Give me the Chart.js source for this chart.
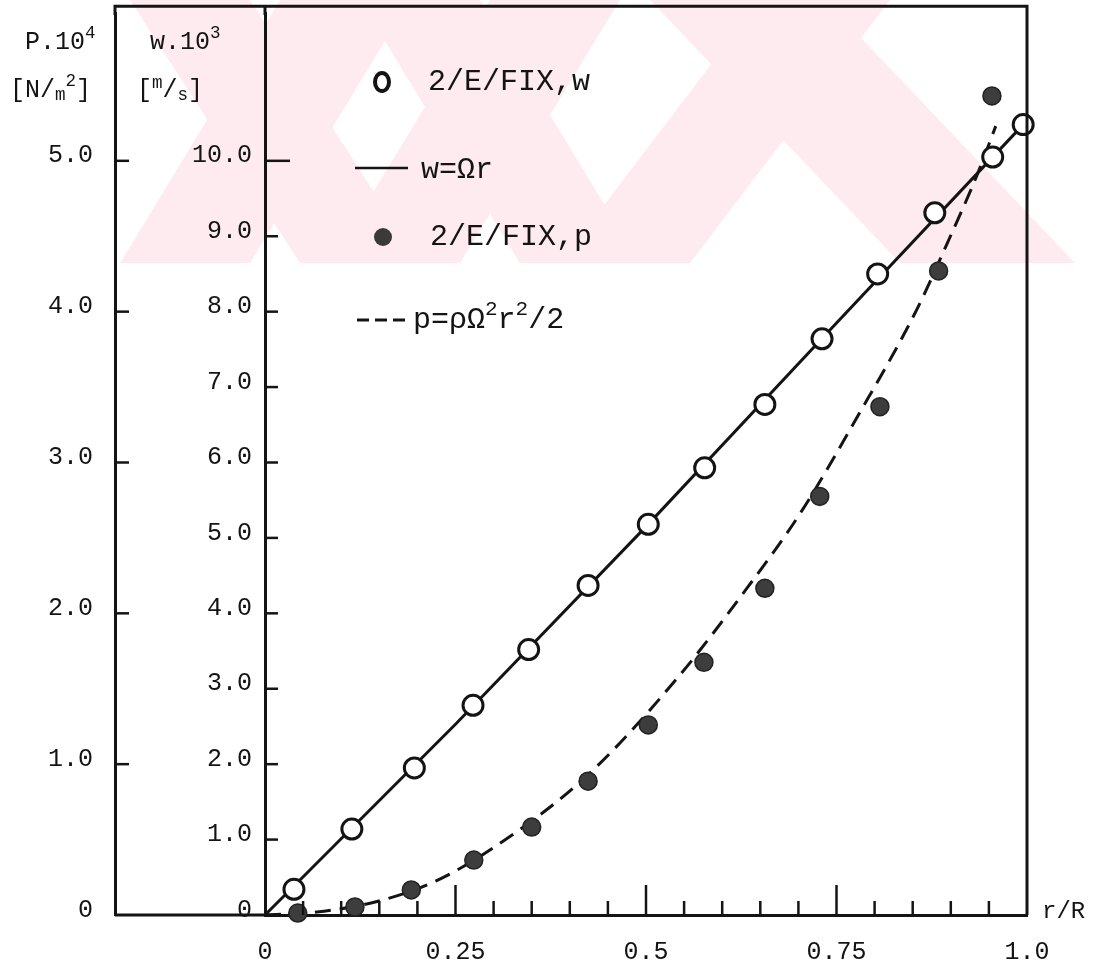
<!DOCTYPE html>
<html>
<head>
<meta charset="utf-8">
<title>w and p against r/R</title>
<script src="https://cdn.jsdelivr.net/npm/chart.js@4.4.1/dist/chart.umd.min.js"></script>
<style>
    html, body { margin: 0; padding: 0; background: #fff; }
    .chart-box { width: 1093px; height: 965px; position: relative; }
</style>
</head>
<body>
<div class="chart-box"><canvas id="profileChart"></canvas></div>
<script>
// measured velocity w.10^3 [m/s] (open circles)
const rW = [0.038, 0.114, 0.196, 0.273, 0.346, 0.424, 0.503, 0.577, 0.656, 0.731, 0.804, 0.879, 0.955, 0.995];
const wMeasured = [0.34, 1.14, 1.95, 2.78, 3.52, 4.37, 5.18, 5.93, 6.77, 7.64, 8.50, 9.31, 10.05, 10.48];

// measured pressure P.10^4 [N/m2] (filled circles)
const rP = [0.043, 0.118, 0.192, 0.274, 0.350, 0.424, 0.503, 0.576, 0.656, 0.728, 0.807, 0.884, 0.954];
const pMeasured = [0.013, 0.053, 0.166, 0.364, 0.583, 0.887, 1.26, 1.675, 2.166, 2.775, 3.37, 4.27, 5.43];

// w = Omega r (solid) and p = rho Omega^2 r^2 / 2 (dashed)
const rLine = [0, 0.25, 0.5, 0.75, 0.995];
const wLine = [0, 2.53, 5.15, 7.85, 10.48];
const rCurve = [0, 0.068, 0.155, 0.226, 0.304, 0.424, 0.541, 0.633, 0.702, 0.777, 0.856, 0.895, 0.934, 0.959];
const pCurve = [0, 0.02, 0.10, 0.23, 0.46, 0.93, 1.57, 2.17, 2.66, 3.30, 4.02, 4.45, 4.90, 5.23];

// tick labels
const xTickLabels = ['0', '0.25', '0.5', '0.75', '1.0'];
const wTickLabels = ['0', '1.0', '2.0', '3.0', '4.0', '5.0', '6.0', '7.0', '8.0', '9.0', '10.0'];
const pTickLabels = ['0', '1.0', '2.0', '3.0', '4.0', '5.0'];

const wMax = 11.96;      // top of the plot area
const wFrame = 12.05;    // top edge of the drawn frame
const ink = '#141414';
const mono = 'Liberation Mono';

const pts = (xs, ys) => xs.map((x, i) => ({ x: x, y: ys[i] }));

// text with raised / lowered parts
function drawRuns(ctx, x, y, size, runs) {
    ctx.textBaseline = 'middle';
    ctx.textAlign = 'left';
    runs.forEach(r => {
        const s = r.dy ? size * 0.7 : size;
        ctx.font = s + 'px "' + mono + '"';
        ctx.fillText(r.t, x, y + (r.dy || 0) * size);
        x += ctx.measureText(r.t).width;
    });
}

function noPad(scale) {
    scale.paddingTop = 0;
    scale.paddingBottom = 0;
    scale.paddingLeft = 0;
    scale.paddingRight = 0;
}

const sheet = {
    id: 'sheet',
    beforeDraw(chart) {
        // faint watermark stripes at the top
        const ctx = chart.ctx;
        ctx.save();
        ctx.beginPath();
        ctx.rect(118, 0, 957, 263);
        ctx.clip();
        ctx.fillStyle = '#fdebef';
        const bands = [
            [120, 250, 280, 410], [300, 420, 130, 250],
            [330, 460, 490, 620], [520, 640, 360, 480],
            [560, 690, 760, 890], [900, 1075, 650, 825]
        ];
        bands.forEach(b => {
            ctx.beginPath();
            ctx.moveTo(b[0], 263); ctx.lineTo(b[1], 263);
            ctx.lineTo(b[3], 0); ctx.lineTo(b[2], 0);
            ctx.closePath();
            ctx.fill();
        });
        ctx.restore();
    },
    afterDatasetsDraw(chart) {
        const { ctx, chartArea: a, scales } = chart;
        const xs = scales.x, ys = scales.y, ps = scales.p;
        const pEdge = ps.right;
        const top = ys.getPixelForValue(wFrame);
        ctx.save();
        ctx.strokeStyle = ink;
        ctx.lineWidth = 3;
        ctx.beginPath();
        ctx.moveTo(pEdge, a.top + 2); ctx.lineTo(pEdge, top);
        ctx.lineTo(a.right, top); ctx.lineTo(a.right, a.bottom);
        ctx.moveTo(a.left, a.top + 2); ctx.lineTo(a.left, top);
        ctx.moveTo(pEdge, a.bottom); ctx.lineTo(a.left, a.bottom);
        ctx.stroke();

        ctx.lineWidth = 2.5;
        xs.ticks.forEach(t => {
            const i = Math.round(t.value * 20);
            if (i <= 0 || i >= 20) return;
            const px = xs.getPixelForValue(t.value);
            ctx.beginPath();
            ctx.moveTo(px, a.bottom);
            ctx.lineTo(px, a.bottom - (i % 5 === 0 ? 30 : 14));
            ctx.stroke();
        });
        ys.ticks.forEach(t => {
            if (t.value <= 0 || t.value > 10 || !Number.isInteger(t.value)) return;
            const py = ys.getPixelForValue(t.value);
            ctx.beginPath();
            ctx.moveTo(a.left, py);
            ctx.lineTo(a.left + (t.value === 10 ? 25 : 13), py);
            ctx.stroke();
        });
        ps.ticks.forEach(t => {
            if (t.value <= 0 || t.value > 5 || !Number.isInteger(t.value)) return;
            const py = ps.getPixelForValue(t.value);
            ctx.beginPath();
            ctx.moveTo(pEdge, py);
            ctx.lineTo(pEdge + 14, py);
            ctx.stroke();
        });
        ctx.restore();
    },
    afterDraw(chart) {
        const ctx = chart.ctx;
        ctx.save();
        ctx.fillStyle = ink;
        ctx.strokeStyle = ink;

        // axis headers
        drawRuns(ctx, 25, 42, 25, [{ t: 'P.10' }, { t: '4', dy: -0.35 }]);
        drawRuns(ctx, 10, 90, 25, [{ t: '[N/' }, { t: 'm', dy: 0.2 }, { t: '2', dy: -0.35 }, { t: ']' }]);
        drawRuns(ctx, 150, 42, 25, [{ t: 'w.10' }, { t: '3', dy: -0.35 }]);
        drawRuns(ctx, 137, 90, 25, [{ t: '[' }, { t: 'm', dy: -0.25 }, { t: '/' }, { t: 's', dy: 0.2 }, { t: ']' }]);
        drawRuns(ctx, 1042, 912, 24, [{ t: 'r/R' }]);

        // legend inside the plot
        ctx.lineWidth = 4;
        ctx.beginPath();
        ctx.ellipse(382, 82, 7, 9, 0, 0, Math.PI * 2);
        ctx.stroke();
        drawRuns(ctx, 428, 82, 30, [{ t: '2/E/FIX,w' }]);

        ctx.lineWidth = 2.5;
        ctx.beginPath();
        ctx.moveTo(355, 168); ctx.lineTo(408, 168);
        ctx.stroke();
        drawRuns(ctx, 421, 170, 30, [{ t: 'w=Ωr' }]);

        ctx.fillStyle = '#3a3a3a';
        ctx.beginPath();
        ctx.arc(383, 237, 9, 0, Math.PI * 2);
        ctx.fill();
        ctx.fillStyle = ink;
        drawRuns(ctx, 430, 237, 30, [{ t: '2/E/FIX,p' }]);

        ctx.lineWidth = 3;
        ctx.setLineDash([12, 6]);
        ctx.beginPath();
        ctx.moveTo(357, 320); ctx.lineTo(410, 320);
        ctx.stroke();
        ctx.setLineDash([]);
        drawRuns(ctx, 413, 320, 30, [{ t: 'p=ρΩ' }, { t: '2', dy: -0.35 }, { t: 'r' }, { t: '2', dy: -0.35 }, { t: '/2' }]);
        ctx.restore();
    }
};

const tickFont = { family: mono, size: 25 };

new Chart(document.getElementById('profileChart'), {
    type: 'scatter',
    data: {
        datasets: [{
            label: '2/E/FIX,w',
            data: pts(rW, wMeasured),
            yAxisID: 'y',
            pointRadius: 10,
            pointBorderWidth: 3,
            pointBorderColor: ink,
            pointBackgroundColor: '#ffffff',
            order: 1
        }, {
            label: '2/E/FIX,p',
            data: pts(rP, pMeasured),
            yAxisID: 'p',
            pointRadius: 9,
            pointBorderWidth: 1.5,
            pointBorderColor: '#222222',
            pointBackgroundColor: '#3d3d3d',
            order: 1
        }, {
            label: 'w=Ωr',
            data: pts(rLine, wLine),
            yAxisID: 'y',
            showLine: true,
            borderColor: ink,
            borderWidth: 3,
            pointRadius: 0,
            order: 2
        }, {
            label: 'p=ρΩ²r²/2',
            data: pts(rCurve, pCurve),
            yAxisID: 'p',
            showLine: true,
            borderColor: ink,
            borderWidth: 3,
            borderDash: [16, 9],
            cubicInterpolationMode: 'monotone',
            pointRadius: 0,
            order: 2
        }]
    },
    plugins: [sheet],
    options: {
        responsive: true,
        maintainAspectRatio: false,
        animation: false,
        clip: false,
        layout: { padding: { top: 0, right: 66, left: 0, bottom: 0 } },
        plugins: {
            legend: { display: false },
            tooltip: { enabled: false }
        },
        scales: {
            x: {
                type: 'linear',
                position: 'bottom',
                min: 0,
                max: 1,
                grid: { drawOnChartArea: false, drawTicks: false },
                border: { color: ink, width: 3 },
                ticks: {
                    stepSize: 0.05,
                    autoSkip: false,
                    maxRotation: 0,
                    padding: 22,
                    color: ink,
                    font: tickFont,
                    callback: function (value) {
                        const i = Math.round(value * 20);
                        return i % 5 === 0 ? xTickLabels[i / 5] : '';
                    }
                },
                afterFit: function (scale) { scale.height = 50; noPad(scale); }
            },
            y: {
                position: 'left',
                weight: 0,
                min: 0,
                max: wMax,
                grid: { drawOnChartArea: false, drawTicks: false },
                border: { color: ink, width: 3 },
                ticks: {
                    stepSize: 1,
                    autoSkip: false,
                    padding: 13,
                    labelOffset: -5,
                    color: ink,
                    font: tickFont,
                    callback: function (value) {
                        return Number.isInteger(value) && value <= 10 ? wTickLabels[value] : '';
                    }
                },
                afterFit: function (scale) { scale.width = 150; noPad(scale); }
            },
            p: {
                position: 'left',
                weight: 1,
                min: 0,
                max: wMax / 2,
                grid: { drawOnChartArea: false, drawTicks: false },
                border: { color: ink, width: 3 },
                ticks: {
                    stepSize: 1,
                    autoSkip: false,
                    padding: 22,
                    labelOffset: -5,
                    color: ink,
                    font: tickFont,
                    callback: function (value) {
                        return Number.isInteger(value) && value <= 5 ? pTickLabels[value] : '';
                    }
                },
                afterFit: function (scale) { scale.width = 115; noPad(scale); }
            }
        }
    }
});
</script>
</body>
</html>
